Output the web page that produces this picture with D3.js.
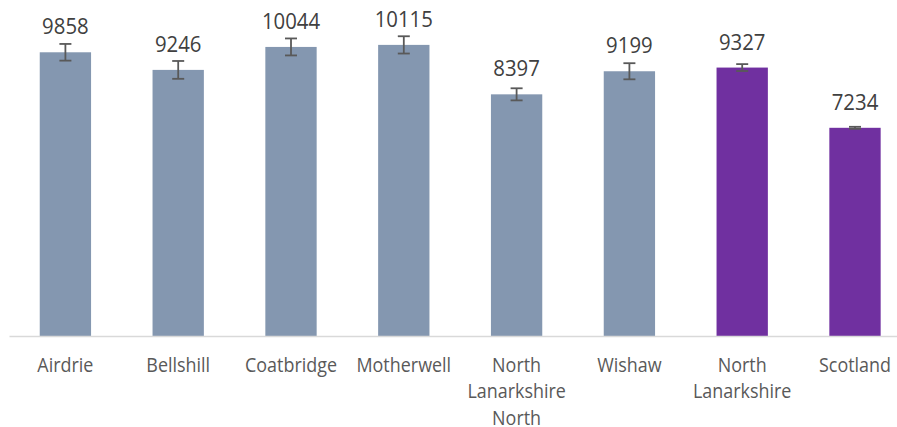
<!DOCTYPE html>
<html><head><meta charset="utf-8">
<script src="https://cdn.jsdelivr.net/npm/d3@7"></script>
<style>body{margin:0;background:#fff}</style>
</head><body>
<svg id="c" width="897" height="427"></svg>
<script>
const categories = ["Airdrie","Bellshill","Coatbridge","Motherwell","North Lanarkshire North","Wishaw","North Lanarkshire","Scotland"];
const categoryLines = [["Airdrie"],["Bellshill"],["Coatbridge"],["Motherwell"],["North","Lanarkshire","North"],["Wishaw"],["North","Lanarkshire"],["Scotland"]];
const values = [9858, 9246, 10044, 10115, 8397, 9199, 9327, 7234];
const errors = [290, 310, 295, 300, 210, 280, 120, 35];
const groups = ["locality","locality","locality","locality","locality","locality","area","area"];

const colors = {locality:"#8497B0", area:"#7030A0"};
const svg = d3.select("#c");
const x = d3.scaleBand().domain(categories).range([9, 911.4]).paddingInner(0.545).paddingOuter(0.2725);
const y = d3.scaleLinear().domain([0, 11000]).range([336, 336 - 11000*0.02878]);

svg.append("g").selectAll("rect").data(values).join("rect")
  .attr("x", (d,i)=>x(categories[i]))
  .attr("width", x.bandwidth())
  .attr("y", d=>y(d))
  .attr("height", d=>y(0)-y(d))
  .attr("fill", (d,i)=>colors[groups[i]]);

// axis line
svg.append("line").attr("x1", 9.5).attr("x2", 897).attr("y1", y(0)+0.5).attr("y2", y(0)+0.5)
  .attr("stroke", "#D9D9D9").attr("stroke-width", 1.5);

// error bars
const eb = svg.append("g").attr("stroke", "#595959").attr("stroke-width", 1.8).attr("fill","none");
values.forEach((v,i)=>{
  const cx = x(categories[i]) + x.bandwidth()/2;
  const t = y(v + errors[i]), b = y(v - errors[i]);
  eb.append("line").attr("x1",cx).attr("x2",cx).attr("y1",t).attr("y2",b);
  eb.append("line").attr("x1",cx-6).attr("x2",cx+6).attr("y1",t).attr("y2",t);
  eb.append("line").attr("x1",cx-6).attr("x2",cx+6).attr("y1",b).attr("y2",b);
});

// value labels
svg.append("g").selectAll("text").data(values).join("text")
  .attr("transform", (d,i)=>`translate(${x(categories[i]) + x.bandwidth()/2},${y(d) - 18}) scale(0.97,1)`)
  .attr("text-anchor","middle")
  .attr("font-family","'Open Sans', sans-serif")
  .attr("font-size", 21)
  .attr("fill","#404040")
  .text(d=>d);

// category labels
const cl = svg.append("g").attr("font-family","'Open Sans', sans-serif").attr("font-size",19.5).attr("fill","#595959").attr("text-anchor","middle");
categoryLines.forEach((lines,i)=>{
  const cx = x(categories[i]) + x.bandwidth()/2;
  const t = cl.append("text").attr("transform", `translate(${cx},372) scale(0.92,1)`);
  lines.forEach((ln,j)=>{
    t.append("tspan").attr("x", 0).attr("y", j*26.4).text(ln);
  });
});
</script>
</body></html>
